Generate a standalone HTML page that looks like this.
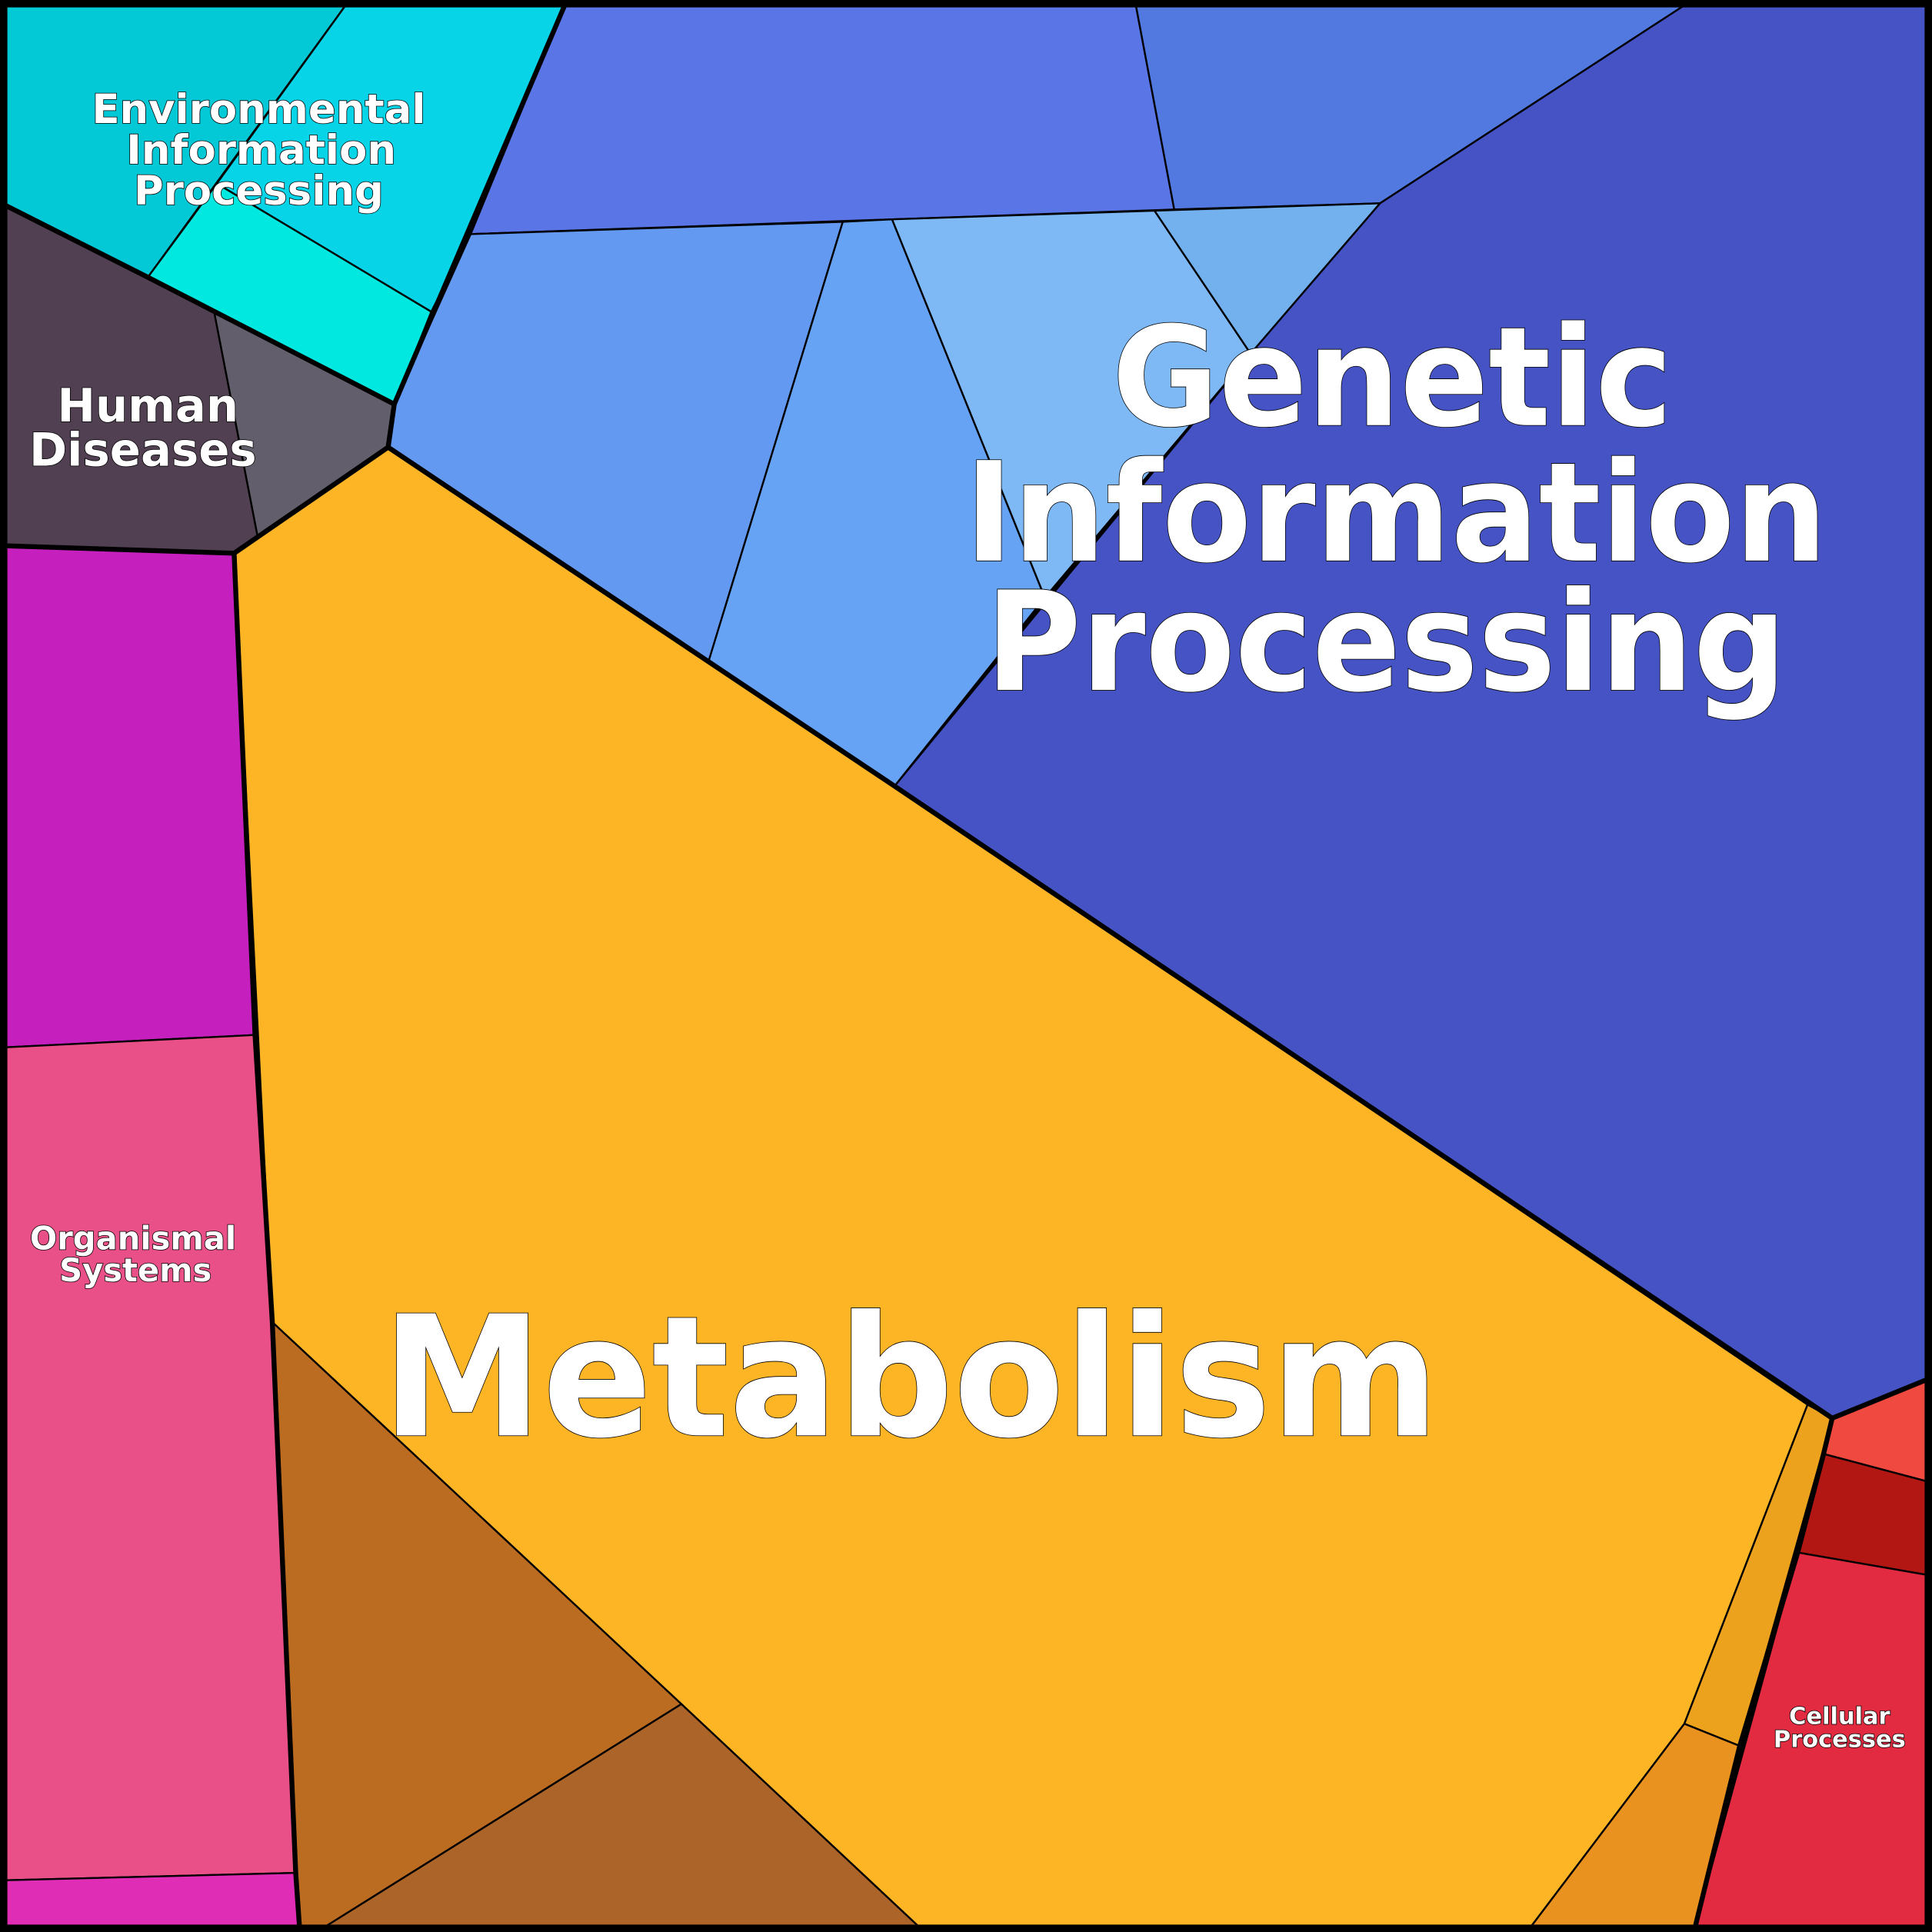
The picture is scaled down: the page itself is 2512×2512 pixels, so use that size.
<!DOCTYPE html>
<html><head><meta charset="utf-8"><style>
html,body{margin:0;padding:0;background:#000;}
svg{display:block;}
text{font-family:"DejaVu Sans","Liberation Sans",sans-serif;font-weight:bold;fill:#fff;stroke:#000;stroke-width:1;paint-order:stroke;text-anchor:middle;}
</style></head><body>
<svg width="2512" height="2512" viewBox="0 0 1568 1568" xmlns="http://www.w3.org/2000/svg">
<g stroke="#000" stroke-width="1.5" stroke-linejoin="round">
<!-- Env -->
<polygon fill="#03C8D6" points="5,5 280,5 120,225 5,167"/>
<polygon fill="#08D4E8" points="280,5 458,5 382,190 350,253 176,149"/>
<polygon fill="#00E8E0" points="120,225 176,149 350,253 320,328"/>
<!-- Genetic -->
<polygon fill="#5A76E6" points="458,5 922,5 953,170 382,190"/>
<polygon fill="#5279E0" points="922,5 1366,5 1120,165 953,170"/>
<polygon fill="#4653C4" points="1366,5 1563,5 1563,1120 1487,1151 726,638 1015,287 1120,165"/>
<polygon fill="#6499F2" points="382,190 684,180 575,537 315,363 320,328"/>
<polygon fill="#67A3F5" points="684,180 724,178 848,485 726,638 575,537"/>
<polygon fill="#7EB8F5" points="724,178 937,171 1015,287 848,485"/>
<polygon fill="#72B0EE" points="937,171 1120,165 1015,287"/>
<!-- Human -->
<polygon fill="#513F52" points="5,167 120,225 174,254 209,435 190,449 5,443"/>
<polygon fill="#625E6C" points="174,254 320,328 315,363 209,435"/>
<!-- Organismal -->
<polygon fill="#C51FBD" points="5,443 190,449 207,840 5,850"/>
<polygon fill="#E95087" points="5,850 207,840 221,1073 240,1520 5,1526"/>
<polygon fill="#E02DB5" points="5,1526 240,1520 243,1563 5,1563"/>
<!-- Metabolism -->
<polygon fill="#FDB526" points="190,449 315,363 726,638 1467,1140 1367,1399 1243,1563 745,1563 553,1383 221,1073"/>
<polygon fill="#BC6C20" points="221,1073 553,1383 265,1563 243,1563"/>
<polygon fill="#AD6428" points="553,1383 745,1563 265,1563"/>
<polygon fill="#EDA21E" points="1467,1140 1487,1151 1412,1417 1367,1399"/>
<polygon fill="#EA9220" points="1367,1399 1412,1417 1376,1563 1243,1563"/>
<!-- Cellular -->
<polygon fill="#F04A40" points="1487,1151 1563,1120 1563,1202 1480,1180"/>
<polygon fill="#B31714" points="1480,1180 1563,1202 1563,1278 1459,1260"/>
<polygon fill="#E22A40" points="1459,1260 1563,1278 1563,1563 1376,1563"/>
</g>
<!-- thick category borders -->
<g fill="none" stroke="#000" stroke-width="4" stroke-linejoin="round">
<polyline points="5,167 120,225 320,328 458,5"/>
<polyline points="320,328 315,363 190,449 5,443"/>
<polyline points="190,449 207,840 221,1073 240,1520 243,1563"/>
<polyline points="315,363 726,638 1487,1151 1563,1120"/>
<polyline points="1487,1151 1480,1180 1459,1260 1412,1417 1376,1563"/>
<rect x="3" y="3" width="1562" height="1562" stroke-width="6"/>
</g>
<text x="210" y="100" font-size="33">Environmental</text>
<text x="212" y="133" font-size="33">Information</text>
<text x="210" y="166" font-size="33">Processing</text>
<text x="120" y="342" font-size="37">Human</text>
<text x="116" y="378" font-size="37">Diseases</text>
<text x="108" y="1014" font-size="26">Organismal</text>
<text x="110" y="1040" font-size="26">Systems</text>
<text x="1493" y="1399" font-size="19">Cellular</text>
<text x="1493" y="1418" font-size="19">Processes</text>
<text x="1130" y="345" font-size="112" textLength="455" lengthAdjust="spacingAndGlyphs">Genetic</text>
<text x="1133" y="455" font-size="112" textLength="700" lengthAdjust="spacingAndGlyphs">Information</text>
<text x="1125" y="560" font-size="112" textLength="650" lengthAdjust="spacingAndGlyphs">Processing</text>
<text x="739" y="1165" font-size="136" textLength="858" lengthAdjust="spacingAndGlyphs">Metabolism</text>
</svg>
</body></html>
